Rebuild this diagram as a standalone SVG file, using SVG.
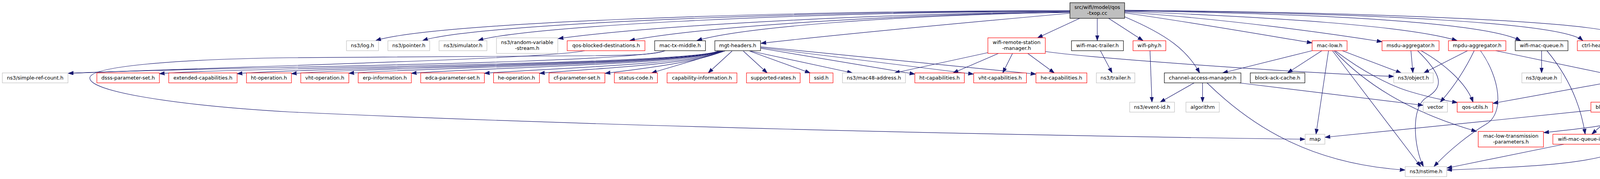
<svg xmlns="http://www.w3.org/2000/svg" width="4397" height="459" viewBox="0 0 4397 459">
<style>
rect{fill:#fff;stroke-width:1.2}
.g rect{stroke:#bfbfbf}
.r rect{stroke:#ff0000}
.b rect{stroke:#000}
.root rect{fill:#bfbfbf;stroke:#000}
text{font-family:"DejaVu Sans","Liberation Sans",sans-serif;font-size:12.9px;fill:#000;text-anchor:middle}
#edges path{fill:none;stroke:#191970;stroke-width:1.2;marker-end:url(#arr)}
</style>
<defs>
<marker id="arr" markerUnits="userSpaceOnUse" markerWidth="15" markerHeight="11" refX="13.3" refY="4.7" orient="auto">
<path d="M0,0 L13.3,4.7 L0,9.4 z" fill="#191970" stroke="#191970" stroke-width="1"/>
</marker>
</defs>
<rect x="0" y="0" width="4397" height="459" style="fill:#fff;stroke:none"/>
<g id="edges">
<path d="M2739,27 C1900,29 1100,60 962,104"/>
<path d="M2739,28 C1950,30 1200,65 1082,104"/>
<path d="M2739,29 C2000,31 1330,70 1224,104"/>
<path d="M2739,30 C2300,34 1700,62 1429,99"/>
<path d="M2739,31 C2300,36 1800,68 1612,104"/>
<path d="M2739,32 C2300,38 1900,70 1784,104"/>
<path d="M2739,34 C2450,60 2150,88 1948,111"/>
<path d="M2764,47 L2656,97"/>
<path d="M2809,47 L2809,104"/>
<path d="M2838,47 L2926,104"/>
<path d="M2879,43 C2990,90 3040,130 3071,187"/>
<path d="M2879,33 C3050,57 3250,92 3359,110"/>
<path d="M2879,31 C3150,50 3400,85 3538,107"/>
<path d="M2879,29 C3250,44 3600,65 3730,104"/>
<path d="M2879,28 C3400,35 3800,58 3893,104"/>
<path d="M2879,27 C3500,33 4000,58 4052,104"/>
<path d="M2879,26 C3600,33 4100,58 4150,90 C4182,112 4178,150 4176,187"/>
<path d="M1497,130 C1400,150 800,165 175,188"/>
<path d="M1703,130 C1600,165 500,172 175,188"/>
<path d="M1702,130 C1680,140 1620,142 1500,143 L740,148 C450,152 230,170 230,200 C230,235 450,270 740,287 C1500,322 2500,346 3341,357"/>
<path d="M1838,131 C1760,166 608,172 408,189"/>
<path d="M1840,131 C1762,166 807,172 607,189"/>
<path d="M1842,131 C1764,166 946,172 746,189"/>
<path d="M1844,131 C1766,166 1093,172 893,188"/>
<path d="M1846,131 C1768,166 1253,172 1053,188"/>
<path d="M1848,131 C1770,166 1420,174 1240,188"/>
<path d="M1850,131 C1772,166 1540,174 1381,188"/>
<path d="M1852,131 C1790,158 1650,176 1549,188"/>
<path d="M1856,131 L1668,187"/>
<path d="M1874,131 L1813,187"/>
<path d="M1903,131 L1964,187"/>
<path d="M1919,131 L2074,187"/>
<path d="M1922,131 L2182,187"/>
<path d="M1948,124 L2342,190"/>
<path d="M1948,122 L2492,190"/>
<path d="M1948,120 L2652,190"/>
<path d="M2529,135 L2290,187"/>
<path d="M2556,137 L2440,187"/>
<path d="M2592,137 L2567,187"/>
<path d="M2631,137 L2699,187"/>
<path d="M2676,132 C2800,150 3300,185 3568,196"/>
<path d="M2817,130 L2847,187"/>
<path d="M2944,130 L2949,262"/>
<path d="M3057,212.5 L2970,262"/>
<path d="M3078.5,212.5 L3078.5,262"/>
<path d="M3090,212.5 C3200,320 3350,420 3597,436"/>
<path d="M3172,212.5 C3350,235 3500,252 3643,270"/>
<path d="M3359,130 L3130,187"/>
<path d="M3384,130 L3296,187"/>
<path d="M3401,130 L3369,344"/>
<path d="M3411,130 L3637,427"/>
<path d="M3415,130 C3490,210 3600,285 3780,337"/>
<path d="M3418,130 C3490,185 3560,220 3610,235 C3660,250 3700,258 3731,263"/>
<path d="M3436,130 L3587,187"/>
<path d="M3612,130 L3617,187"/>
<path d="M3629,130 C3690,190 3700,222 3652,250 C3610,275 3620,380 3644,427"/>
<path d="M3638,130 C3700,165 3755,215 3771,262"/>
<path d="M3757,130 L3645,187"/>
<path d="M3774,130 C3750,180 3720,225 3687,262"/>
<path d="M3790,130 C3840,200 3852,290 3805,318 C3760,345 3710,385 3671,427"/>
<path d="M3829,130 L4125,192"/>
<path d="M3946.5,130 L3946.5,187"/>
<path d="M3960,130 C4010,190 4045,260 4058,344"/>
<path d="M4125,210 L3822,265"/>
<path d="M4167,212.5 L4157,262"/>
<path d="M4189,212.5 L4267,262"/>
<path d="M4216,205 C4300,230 4352,280 4330,344"/>
<path d="M4138,287.5 L4075,344"/>
<path d="M4158,287.5 C4175,340 4175,375 4140,390 C4050,425 3850,430 3704,436"/>
<path d="M4073,283 C3850,307 3600,330 3392,352"/>
<path d="M4256,284 C4150,320 4050,330 3952,340"/>
<path d="M4292,287.5 L4315,344"/>
<path d="M4003,370 L3704,431"/>
</g>
<g id="n_root" class="root"><rect x="2739" y="7" width="140" height="40"/><text x="2809" y="23">src/wifi/model/qos</text><text x="2809" y="37.5">-txop.cc</text></g>
<g id="n_log" class="g"><rect x="887" y="104.5" width="82" height="25.5"/><text x="928" y="121">ns3/log.h</text></g>
<g id="n_pointer" class="g"><rect x="993" y="104.5" width="107" height="25.5"/><text x="1046.5" y="121">ns3/pointer.h</text></g>
<g id="n_simulator" class="g"><rect x="1124" y="104.5" width="122.5" height="25.5"/><text x="1185.2" y="121">ns3/simulator.h</text></g>
<g id="n_randvar" class="g"><rect x="1271" y="97" width="157" height="40"/><text x="1349.5" y="113">ns3/random-variable</text><text x="1349.5" y="127.5">-stream.h</text></g>
<g id="n_qosblocked" class="r"><rect x="1452" y="104.5" width="199" height="25.5"/><text x="1551.5" y="121">qos-blocked-destinations.h</text></g>
<g id="n_mactxmiddle" class="b"><rect x="1676" y="104.5" width="130" height="25.5"/><text x="1741" y="121">mac-tx-middle.h</text></g>
<g id="n_mgtheaders" class="b"><rect x="1830" y="104.5" width="117" height="25.5"/><text x="1888.5" y="121">mgt-headers.h</text></g>
<g id="n_wifiremote" class="r"><rect x="2529" y="97" width="147" height="40"/><text x="2602.5" y="113">wifi-remote-station</text><text x="2602.5" y="127.5">-manager.h</text></g>
<g id="n_wifimactrailer" class="b"><rect x="2743" y="104.5" width="133" height="25.5"/><text x="2809.5" y="121">wifi-mac-trailer.h</text></g>
<g id="n_wifiphy" class="r"><rect x="2900.5" y="104.5" width="84" height="25.5"/><text x="2942.5" y="121">wifi-phy.h</text></g>
<g id="n_maclow" class="r"><rect x="3359" y="104.5" width="89.5" height="25.5"/><text x="3403.7" y="121">mac-low.h</text></g>
<g id="n_msdu" class="r"><rect x="3538" y="104.5" width="146" height="25.5"/><text x="3611" y="121">msdu-aggregator.h</text></g>
<g id="n_mpdu" class="r"><rect x="3708" y="104.5" width="147" height="25.5"/><text x="3781.5" y="121">mpdu-aggregator.h</text></g>
<g id="n_wifimacqueue" class="b"><rect x="3879" y="104.5" width="135" height="25.5"/><text x="3946.5" y="121">wifi-mac-queue.h</text></g>
<g id="n_ctrlheaders" class="r"><rect x="4038" y="104.5" width="112.5" height="25.5"/><text x="4094.2" y="121">ctrl-headers.h</text></g>
<g id="n_simplerefcount" class="g"><rect x="6" y="187" width="168" height="25.5"/><text x="90" y="203.5">ns3/simple-ref-count.h</text></g>
<g id="n_dsss" class="r"><rect x="248" y="187" width="160" height="25.5"/><text x="328" y="203.5">dsss-parameter-set.h</text></g>
<g id="n_extended" class="r"><rect x="432" y="187" width="175" height="25.5"/><text x="519.5" y="203.5">extended-capabilities.h</text></g>
<g id="n_htop" class="r"><rect x="631" y="187" width="115" height="25.5"/><text x="688.5" y="203.5">ht-operation.h</text></g>
<g id="n_vhtop" class="r"><rect x="770" y="187" width="123" height="25.5"/><text x="831.5" y="203.5">vht-operation.h</text></g>
<g id="n_erp" class="r"><rect x="917" y="187" width="136" height="25.5"/><text x="985" y="203.5">erp-information.h</text></g>
<g id="n_edca" class="r"><rect x="1077" y="187" width="163" height="25.5"/><text x="1158.5" y="203.5">edca-parameter-set.h</text></g>
<g id="n_heop" class="r"><rect x="1263.5" y="187" width="117.5" height="25.5"/><text x="1322.2" y="203.5">he-operation.h</text></g>
<g id="n_cf" class="r"><rect x="1405.5" y="187" width="143" height="25.5"/><text x="1477" y="203.5">cf-parameter-set.h</text></g>
<g id="n_status" class="r"><rect x="1572.7" y="187" width="110.4" height="25.5"/><text x="1627.9" y="203.5">status-code.h</text></g>
<g id="n_capinfo" class="r"><rect x="1707.7" y="187" width="178.8" height="25.5"/><text x="1797.1" y="203.5">capability-information.h</text></g>
<g id="n_supported" class="r"><rect x="1911" y="187" width="137.4" height="25.5"/><text x="1979.7" y="203.5">supported-rates.h</text></g>
<g id="n_ssid" class="r"><rect x="2072.5" y="187" width="60" height="25.5"/><text x="2102.5" y="203.5">ssid.h</text></g>
<g id="n_mac48" class="g"><rect x="2156.6" y="187" width="161.4" height="25.5"/><text x="2237.3" y="203.5">ns3/mac48-address.h</text></g>
<g id="n_htcap" class="r"><rect x="2342" y="187" width="126.6" height="25.5"/><text x="2405.3" y="203.5">ht-capabilities.h</text></g>
<g id="n_vhtcap" class="r"><rect x="2492.6" y="187" width="135" height="25.5"/><text x="2560.1" y="203.5">vht-capabilities.h</text></g>
<g id="n_hecap" class="r"><rect x="2652" y="187" width="130.4" height="25.5"/><text x="2717.2" y="203.5">he-capabilities.h</text></g>
<g id="n_trailer" class="g"><rect x="2806.6" y="187" width="98.6" height="25.5"/><text x="2855.9" y="203.5">ns3/trailer.h</text></g>
<g id="n_cam" class="b"><rect x="2980.7" y="187" width="196" height="25.5"/><text x="3078.7" y="203.5">channel-access-manager.h</text></g>
<g id="n_bac" class="b"><rect x="3200.7" y="187" width="139.8" height="25.5"/><text x="3270.6" y="203.5">block-ack-cache.h</text></g>
<g id="n_object" class="g"><rect x="3568" y="187" width="101" height="25.5"/><text x="3618.5" y="203.5">ns3/object.h</text></g>
<g id="n_queue" class="g"><rect x="3896" y="187" width="101" height="25.5"/><text x="3946.5" y="203.5">ns3/queue.h</text></g>
<g id="n_qostxoph" class="b"><rect x="4125.3" y="187" width="90.4" height="25.5"/><text x="4170.5" y="203.5">qos-txop.h</text></g>
<g id="n_eventid" class="g"><rect x="2892" y="262" width="114.7" height="25.5"/><text x="2949.3" y="278.5">ns3/event-id.h</text></g>
<g id="n_algorithm" class="g"><rect x="3036" y="262" width="85.4" height="25.5"/><text x="3078.7" y="278.5">algorithm</text></g>
<g id="n_vector" class="g"><rect x="3643.4" y="262" width="62" height="25.5"/><text x="3674.4" y="278.5">vector</text></g>
<g id="n_qosutils" class="r"><rect x="3730.4" y="262" width="91" height="25.5"/><text x="3775.9" y="278.5">qos-utils.h</text></g>
<g id="n_bam" class="r"><rect x="4072.7" y="262" width="159" height="25.5"/><text x="4152.2" y="278.5">block-ack-manager.h</text></g>
<g id="n_txop" class="r"><rect x="4255.7" y="262" width="62.4" height="25.5"/><text x="4286.9" y="278.5">txop.h</text></g>
<g id="n_map" class="g"><rect x="3341.2" y="344.3" width="50.5" height="25.5"/><text x="3366.5" y="360.8">map</text></g>
<g id="n_mltp" class="r"><rect x="3784.3" y="337" width="167" height="40"/><text x="3867.8" y="353">mac-low-transmission</text><text x="3867.8" y="367.5">-parameters.h</text></g>
<g id="n_wmqi" class="r"><rect x="3975.4" y="344.3" width="171" height="25.5"/><text x="4060.9" y="360.8">wifi-mac-queue-item.h</text></g>
<g id="n_traced" class="g"><rect x="4250" y="344.3" width="142.4" height="25.5"/><text x="4321.2" y="360.8">ns3/traced-value.h</text></g>
<g id="n_nstime" class="g"><rect x="3597.3" y="427.3" width="106.4" height="25.5"/><text x="3650.5" y="443.8">ns3/nstime.h</text></g>
</svg>
